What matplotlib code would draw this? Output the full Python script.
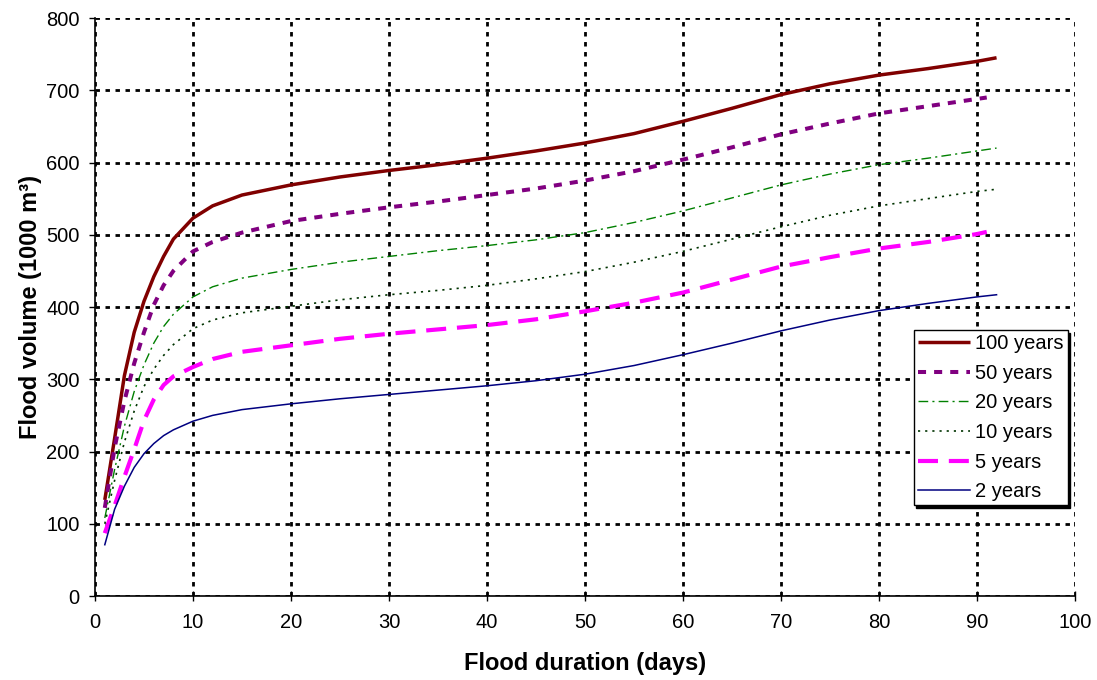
import matplotlib
matplotlib.use("Agg")
import matplotlib.pyplot as plt

plt.rcParams['font.family'] = ['Liberation Sans', 'DejaVu Sans']

# flood duration (days) and volumes (1000 m3)
days = [1, 2, 3, 4, 5, 6, 7, 8, 10, 12, 15, 20, 25, 30, 35, 40, 45,
        50, 55, 60, 65, 70, 75, 80, 85, 90, 92]
days_91 = days[:-1] + [91]

vol_100 = [133, 218, 305, 365, 408, 442, 470, 494, 523, 540, 555, 569, 580, 589,
           597, 606, 616, 627, 640, 657, 675, 694, 709, 721, 730, 740, 745]
vol_50 = [122, 205, 270, 322, 365, 403, 430, 450, 477, 490, 503, 519, 529, 538,
          546, 555, 564, 575, 588, 604, 621, 639, 654, 668, 678, 688, 690]
vol_20 = [108, 175, 235, 283, 320, 350, 373, 390, 414, 428, 440, 452, 462, 470,
          478, 485, 493, 503, 517, 533, 551, 569, 584, 597, 606, 616, 620]
vol_10 = [100, 160, 213, 256, 290, 314, 333, 348, 370, 382, 392, 401, 410, 417,
          423, 430, 439, 449, 462, 477, 494, 511, 527, 540, 550, 560, 563]
vol_5 = [87, 125, 165, 203, 243, 272, 292, 304, 317, 328, 338, 347, 356, 363,
         369, 375, 383, 394, 406, 420, 438, 456, 469, 481, 490, 501, 504]
vol_2 = [71, 120, 152, 178, 197, 211, 222, 230, 242, 250, 258, 266, 273, 279,
         285, 291, 298, 307, 319, 334, 350, 367, 382, 395, 405, 414, 417]

fig = plt.figure(figsize=(10.97, 6.8), dpi=100)
ax = fig.add_axes([0.0866, 0.1235, 0.8933, 0.85])

ax.plot(days, vol_100, color='#800000', lw=2.5, solid_capstyle='butt', label='100 years')
ax.plot(days_91, vol_50, color='#800080', lw=2.9, linestyle=(0, (2, 2)), label='50 years')
ax.plot(days, vol_20, color='#008000', lw=1.0, linestyle=(0, (7, 3, 1.5, 3)), label='20 years')
ax.plot(days, vol_10, color='#003300', lw=1.2, linestyle=(0, (1.3, 3)), label='10 years')
ax.plot(days_91, vol_5, color='#FF00FF', lw=3.0, linestyle=(0, (4.8, 2.6)), label='5 years')
ax.plot(days, vol_2, color='#000080', lw=1.1, label='2 years')

ax.set_xlim(0, 100)
ax.set_ylim(0, 800)
ax.set_xticks(range(0, 101, 10))
ax.set_yticks(range(0, 801, 100))
ax.grid(True, color='black', lw=2, linestyle=(0, (1.6, 2)))
ax.set_axisbelow(True)

for s in ['top', 'right']:
    ax.spines[s].set_visible(False)
for s in ['left', 'bottom']:
    ax.spines[s].set_linewidth(1.2)

ax.tick_params(axis='x', direction='inout', length=7, width=1, labelsize=14.5, pad=9)
ax.tick_params(axis='y', direction='out', length=4, width=1, labelsize=14.5, pad=7)

ax.set_xlabel('Flood duration (days)', fontsize=17, fontweight='bold', labelpad=14)
ax.set_ylabel('Flood volume (1000 m³)', fontsize=17, fontweight='bold', labelpad=3)

leg = ax.legend(loc='upper right', bbox_to_anchor=(0.9925, 0.4602), borderaxespad=0,
                fontsize=14.5, handlelength=2.6, handletextpad=0.25, labelspacing=0.53,
                borderpad=0.2, fancybox=False, framealpha=1, edgecolor='black',
                shadow={'color': 'black', 'alpha': 1})
leg.get_frame().set_linewidth(1.0)

fig.savefig('out.png', dpi=100)
